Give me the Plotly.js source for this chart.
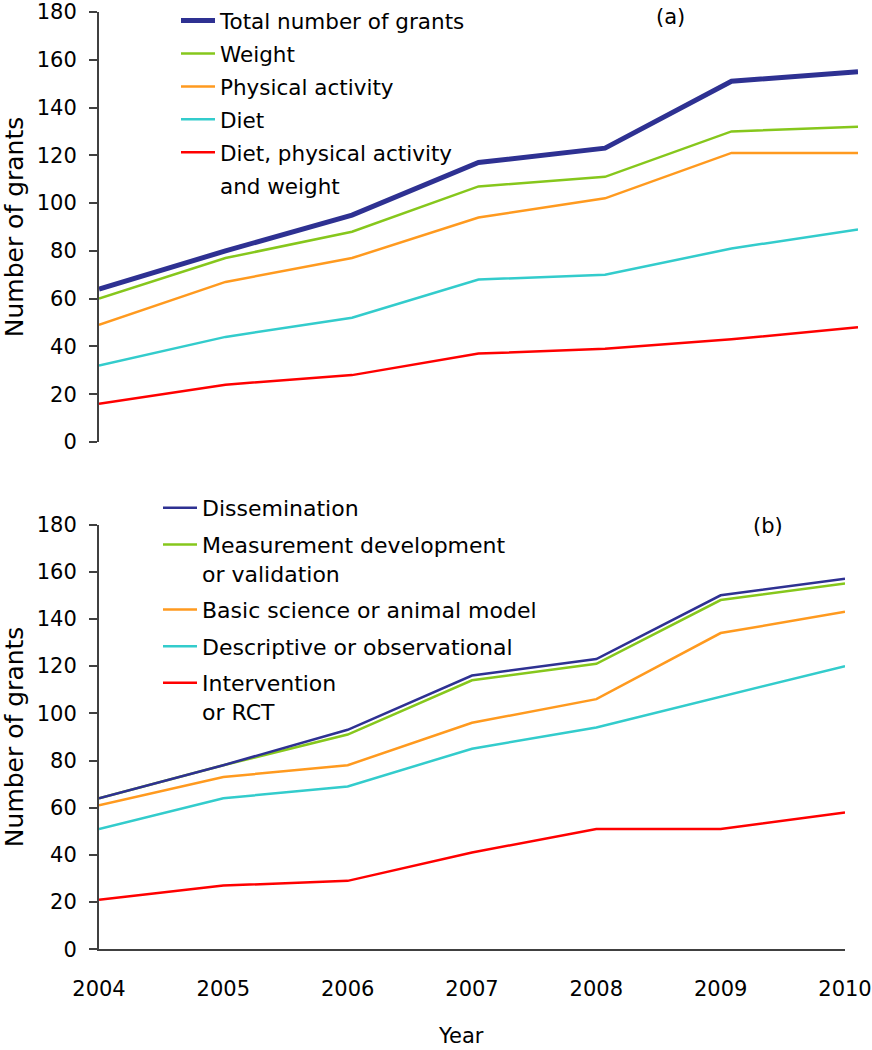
<!DOCTYPE html>
<html>
<head>
<meta charset="utf-8">
<script src="https://cdn.plot.ly/plotly-3.0.1.min.js"></script>
<style>html,body{margin:0;padding:0;background:#fff;}#chart{width:872px;height:1050px;}</style>
</head>
<body>
<div id="chart"></div>
<script>
// ---- data ----
var years = [2004, 2005, 2006, 2007, 2008, 2009, 2010];
var yTicks = [0, 20, 40, 60, 80, 100, 120, 140, 160, 180];

// panel (a)
var totalGrants = [64, 80, 95, 117, 123, 151, 155];
var weight = [60, 77, 88, 107, 111, 130, 132];
var physicalActivity = [49, 67, 77, 94, 102, 121, 121];
var diet = [32, 44, 52, 68, 70, 81, 89];
var dietPaWeight = [16, 24, 28, 37, 39, 43, 48];

// panel (b)
var dissemination = [64, 78, 93, 116, 123, 150, 157];
var measurement = [64, 78, 91, 114, 121, 148, 155];
var basicScience = [61, 73, 78, 96, 106, 134, 143];
var descriptive = [51, 64, 69, 85, 94, 107, 120];
var intervention = [21, 27, 29, 41, 51, 51, 58];

// ---- styles ----
var W = 872, H = 1050;
var FONT = '"DejaVu Sans", "Liberation Sans", Arial, sans-serif';
var NAVY = '#2e3192', GREEN = '#86c71c', ORANGE = '#ff9a1f', CYAN = '#33cccc', RED = '#ff0000';
var AX = '#404040';

function tr(x, y, name, color, width, xa, ya, leg, rank) {
  return {x: x, y: y, name: name, type: 'scatter', mode: 'lines',
    line: {color: color, width: width}, xaxis: xa, yaxis: ya,
    legend: leg, legendgroup: name, legendrank: rank, hoverinfo: 'skip'};
}

var traces = [
  tr(years, dietPaWeight, 'Diet, physical activity', RED, 2.5, 'x', 'y', 'legend', 5),
  tr(years, diet, 'Diet', CYAN, 2.5, 'x', 'y', 'legend', 4),
  tr(years, physicalActivity, 'Physical activity', ORANGE, 2.5, 'x', 'y', 'legend', 3),
  tr(years, weight, 'Weight', GREEN, 2.5, 'x', 'y', 'legend', 2),
  tr(years, totalGrants, 'Total number of grants', NAVY, 5, 'x', 'y', 'legend', 1),
  // legend continuation line (no data)
  {x: [null], y: [null], name: 'and weight', type: 'scatter', mode: 'lines',
   line: {color: 'rgba(0,0,0,0)', width: 0}, xaxis: 'x', yaxis: 'y',
   legend: 'legend', legendgroup: 'cont', legendrank: 6, hoverinfo: 'skip'},

  tr(years, intervention, 'Intervention<br>or RCT', RED, 2.5, 'x2', 'y2', 'legend2', 5),
  tr(years, descriptive, 'Descriptive or observational', CYAN, 2.5, 'x2', 'y2', 'legend2', 4),
  tr(years, basicScience, 'Basic science or animal model', ORANGE, 2.5, 'x2', 'y2', 'legend2', 3),
  tr(years, measurement, 'Measurement development<br>or validation', GREEN, 2.5, 'x2', 'y2', 'legend2', 2),
  tr(years, dissemination, 'Dissemination', NAVY, 2.5, 'x2', 'y2', 'legend2', 1)
];

function yAxis(domTop, domBot) {
  return {
    domain: [1 - domBot / H, 1 - domTop / H], range: [0, 180],
    tickmode: 'array', tickvals: yTicks, ticktext: yTicks.map(String),
    showline: true, linecolor: AX, linewidth: 2,
    ticks: 'outside', ticklen: 8, tickwidth: 2, tickcolor: AX,
    showgrid: false, zeroline: false, automargin: false,
    ticklabeloverflow: 'allow',
    tickfont: {family: FONT, size: 21, color: '#000'},
    ticklabelstandoff: 8,
    title: {text: 'Number of grants', font: {family: FONT, size: 25, color: '#000'}, standoff: 7}
  };
}

var yA = yAxis(12, 442); yA.anchor = 'x';
var yB = yAxis(524.5, 949.3); yB.anchor = 'x2';

var layout = {
  width: W, height: H,
  margin: {l: 0, r: 0, t: 0, b: 0},
  paper_bgcolor: '#fff', plot_bgcolor: 'rgba(0,0,0,0)',
  font: {family: FONT, color: '#000'},
  showlegend: true,
  xaxis: {domain: [99 / W, 858 / W], range: [2004, 2010], anchor: 'y',
    showline: false, showticklabels: false, ticks: '', showgrid: false, zeroline: false},
  yaxis: yA,
  xaxis2: {domain: [99 / W, 845 / W], range: [2004, 2010], anchor: 'y2',
    tickmode: 'array', tickvals: years, ticktext: years.map(String),
    showline: true, linecolor: AX, linewidth: 2, ticks: '', showgrid: false, zeroline: false,
    automargin: false, ticklabeloverflow: 'allow',
    tickfont: {family: FONT, size: 21, color: '#000'}, ticklabelstandoff: 19},
  yaxis2: yB,
  legend: {x: 176 / W, xanchor: 'left', y: 1, yanchor: 'top',
    bgcolor: 'rgba(0,0,0,0)', font: {family: FONT, size: 21.5, color: '#000'},
    itemwidth: 34,
    traceorder: 'grouped', tracegroupgap: 2, valign: 'top'},
  legend2: {x: 158 / W, xanchor: 'left', y: 1 - 487 / H, yanchor: 'top',
    bgcolor: 'rgba(0,0,0,0)', font: {family: FONT, size: 22, color: '#000'},
    itemwidth: 34,
    traceorder: 'grouped', tracegroupgap: 5, valign: 'top'},
  annotations: [
    {text: '(a)', x: 670 / W, y: 1 - 17 / H, xref: 'paper', yref: 'paper',
     showarrow: false, xanchor: 'center', yanchor: 'middle', font: {family: FONT, size: 21, color: '#000'}},
    {text: '(b)', x: 768 / W, y: 1 - 526 / H, xref: 'paper', yref: 'paper',
     showarrow: false, xanchor: 'center', yanchor: 'middle', font: {family: FONT, size: 21, color: '#000'}},
    {text: 'Year', x: 461 / W, y: 1 - 1036 / H, xref: 'paper', yref: 'paper',
     showarrow: false, xanchor: 'center', yanchor: 'middle', font: {family: FONT, size: 21, color: '#000'}}
  ]
};

Plotly.newPlot('chart', traces, layout, {displayModeBar: false, staticPlot: true});
</script>
</body>
</html>
